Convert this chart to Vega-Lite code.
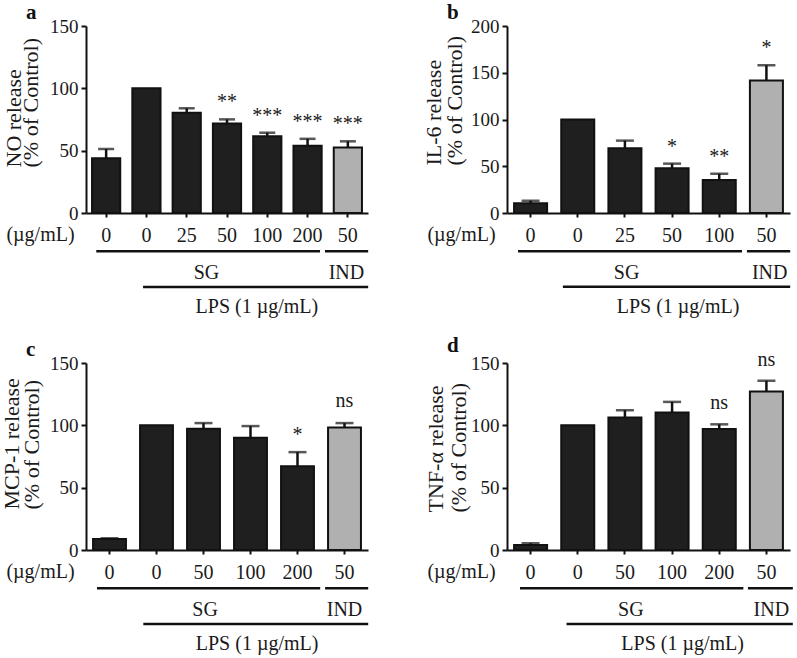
{
  "$schema": "https://vega.github.io/schema/vega-lite/v6.json",
  "background": "white",
  "padding": {"left": 0, "top": 2, "right": 5, "bottom": 5},
  "bounds": "flush",
  "columns": 2,
  "spacing": {"row": 150, "column": 139},
  "datasets": {
    "a": [
      {"key": "ctl", "treat": "control", "value": 44, "upper": 51.3, "sig": ""},
      {"key": "lps0", "treat": "LPS", "value": 100, "upper": null, "sig": ""},
      {"key": "sg25", "treat": "SG", "value": 80.5, "upper": 84, "sig": ""},
      {"key": "sg50", "treat": "SG", "value": 71.7, "upper": 75.1, "sig": "**"},
      {"key": "sg100", "treat": "SG", "value": 61.5, "upper": 64.4, "sig": "***"},
      {"key": "sg200", "treat": "SG", "value": 54, "upper": 59.5, "sig": "***"},
      {"key": "ind50", "treat": "IND", "value": 52.5, "upper": 57.5, "sig": "***"}
    ],
    "b": [
      {"key": "ctl", "treat": "control", "value": 10.3, "upper": 13.2, "sig": ""},
      {"key": "lps0", "treat": "LPS", "value": 100, "upper": null, "sig": ""},
      {"key": "sg25", "treat": "SG", "value": 69.2, "upper": 77.4, "sig": ""},
      {"key": "sg50", "treat": "SG", "value": 47.8, "upper": 52.8, "sig": "*"},
      {"key": "sg100", "treat": "SG", "value": 35.3, "upper": 42, "sig": "**"},
      {"key": "ind50", "treat": "IND", "value": 141.7, "upper": 158, "sig": "*"}
    ],
    "c": [
      {"key": "ctl", "treat": "control", "value": 8.8, "upper": 9.4, "sig": ""},
      {"key": "lps0", "treat": "LPS", "value": 100, "upper": null, "sig": ""},
      {"key": "sg50", "treat": "SG", "value": 97.2, "upper": 101.8, "sig": ""},
      {"key": "sg100", "treat": "SG", "value": 90, "upper": 99.4, "sig": ""},
      {"key": "sg200", "treat": "SG", "value": 67.2, "upper": 78.5, "sig": "*"},
      {"key": "ind50", "treat": "IND", "value": 98.3, "upper": 101.8, "sig": "ns"}
    ],
    "d": [
      {"key": "ctl", "treat": "control", "value": 4, "upper": 5.4, "sig": ""},
      {"key": "lps0", "treat": "LPS", "value": 100, "upper": null, "sig": ""},
      {"key": "sg50", "treat": "SG", "value": 106.2, "upper": 112.1, "sig": ""},
      {"key": "sg100", "treat": "SG", "value": 110.2, "upper": 118.8, "sig": ""},
      {"key": "sg200", "treat": "SG", "value": 97, "upper": 100.8, "sig": "ns"},
      {"key": "ind50", "treat": "IND", "value": 127.2, "upper": 135.8, "sig": "ns"}
    ],
    "spans_a": [
      {"label": "SG", "text": "SG", "from": "ctl", "to": "sg200", "at": "sg25"},
      {"label": "IND", "text": "IND", "from": "ind50", "to": "ind50", "at": "ind50"},
      {"label": "LPS", "text": "LPS (1 µg/mL)", "from": "lps0", "to": "ind50", "at": "sg100"}
    ],
    "spans_b": [
      {"label": "SG", "text": "SG", "from": "ctl", "to": "sg100", "at": "sg25"},
      {"label": "IND", "text": "IND", "from": "ind50", "to": "ind50", "at": "ind50"},
      {"label": "LPS", "text": "LPS (1 µg/mL)", "from": "lps0", "to": "ind50", "at": "sg50"}
    ],
    "spans_c": [
      {"label": "SG", "text": "SG", "from": "ctl", "to": "sg200", "at": "sg50"},
      {"label": "IND", "text": "IND", "from": "ind50", "to": "ind50", "at": "ind50"},
      {"label": "LPS", "text": "LPS (1 µg/mL)", "from": "lps0", "to": "ind50", "at": "sg100"}
    ],
    "spans_d": [
      {"label": "SG", "text": "SG", "from": "ctl", "to": "sg200", "at": "sg50"},
      {"label": "IND", "text": "IND", "from": "ind50", "to": "ind50", "at": "ind50"},
      {"label": "LPS", "text": "LPS (1 µg/mL)", "from": "lps0", "to": "ind50", "at": "sg100"}
    ]
  },
  "concat": [
    {
      "width": 282,
      "height": 187,
      "title": {"text": "a"},
      "layer": [
        {
          "data": {"name": "a"},
          "mark": {"type": "bar", "stroke": "#111", "strokeWidth": 2},
          "encoding": {
            "x": {"field": "key", "type": "nominal", "sort": null,
              "scale": {"domain": ["ctl", "lps0", "sg25", "sg50", "sg100", "sg200", "ind50"], "paddingInner": 0.3, "paddingOuter": 0.15},
              "axis": {"title": "(µg/mL)", "labelExpr": "datum.value == 'ctl' || datum.value == 'lps0' ? '0' : replace(replace(datum.value, 'sg', ''), 'ind', '')", "titleX": -46, "titleY": 21, "titleBaseline": "middle", "titleAlign": "center"}},
            "y": {"field": "value", "type": "quantitative", "scale": {"domain": [0, 150], "nice": false},
              "axis": {"title": ["NO release", "(% of Control)"], "values": [0, 50, 100, 150], "titleX": -66, "titleY": 141, "titleLineHeight": 17}},
            "fill": {"field": "treat", "type": "nominal", "scale": {"domain": ["control", "LPS", "SG", "IND"], "range": ["#1f1f1f", "#1f1f1f", "#1f1f1f", "#b0b0b0"]}, "legend": null}
          }
        },
        {
          "data": {"name": "a"},
          "transform": [{"filter": "datum.upper != null"}],
          "mark": {"type": "rule", "color": "#111", "strokeWidth": 2.5},
          "encoding": {
            "x": {"field": "key", "type": "nominal"},
            "y": {"field": "value", "type": "quantitative", "scale": {"domain": [0, 150], "nice": false}},
            "y2": {"field": "upper"}
          }
        },
        {
          "data": {"name": "a"},
          "transform": [{"filter": "datum.upper != null"}],
          "mark": {"type": "tick", "color": "#111", "size": 16, "thickness": 2.5},
          "encoding": {
            "x": {"field": "key", "type": "nominal"},
            "y": {"field": "upper", "type": "quantitative", "scale": {"domain": [0, 150], "nice": false}}
          }
        },
        {
          "data": {"name": "a"},
          "transform": [{"filter": "datum.sig != '' && datum.sig != 'ns'"}],
          "mark": {"type": "text", "dy": -11, "baseline": "alphabetic", "fontSize": 20},
          "encoding": {
            "x": {"field": "key", "type": "nominal"},
            "y": {"field": "upper", "type": "quantitative", "scale": {"domain": [0, 150], "nice": false}},
            "text": {"field": "sig"}
          }
        },
        {
          "data": {"name": "spans_a"},
          "transform": [{"filter": "datum.label == 'SG'"}],
          "mark": {"type": "rule", "color": "#111", "strokeWidth": 2.5},
          "encoding": {
            "x": {"field": "from", "type": "nominal", "bandPosition": 0.15},
            "x2": {"field": "to", "bandPosition": 0.94},
            "y": {"datum": -30.6, "type": "quantitative", "scale": {"domain": [0, 150], "nice": false}}
          }
        },
        {
          "data": {"name": "spans_a"},
          "transform": [{"filter": "datum.label == 'IND'"}],
          "mark": {"type": "rule", "color": "#111", "strokeWidth": 2.5},
          "encoding": {
            "x": {"field": "from", "type": "nominal", "bandPosition": -0.31},
            "x2": {"field": "to", "bandPosition": 1.22},
            "y": {"datum": -30.6, "type": "quantitative", "scale": {"domain": [0, 150], "nice": false}}
          }
        },
        {
          "data": {"name": "spans_a"},
          "transform": [{"filter": "datum.label == 'LPS'"}],
          "mark": {"type": "rule", "color": "#111", "strokeWidth": 2.5},
          "encoding": {
            "x": {"field": "from", "type": "nominal", "bandPosition": 0.38},
            "x2": {"field": "to", "bandPosition": 1.22},
            "y": {"datum": -59.3, "type": "quantitative", "scale": {"domain": [0, 150], "nice": false}}
          }
        },
        {
          "data": {"name": "spans_a"},
          "transform": [{"filter": "datum.label == 'SG'"}],
          "mark": {"type": "text", "baseline": "middle", "fontSize": 20},
          "encoding": {
            "x": {"field": "at", "type": "nominal", "bandPosition": 1.2},
            "y": {"datum": -48.2, "type": "quantitative", "scale": {"domain": [0, 150], "nice": false}},
            "text": {"field": "text"}
          }
        },
        {
          "data": {"name": "spans_a"},
          "transform": [{"filter": "datum.label == 'IND'"}],
          "mark": {"type": "text", "baseline": "middle", "fontSize": 20},
          "encoding": {
            "x": {"field": "at", "type": "nominal", "bandPosition": 0.45},
            "y": {"datum": -48.2, "type": "quantitative", "scale": {"domain": [0, 150], "nice": false}},
            "text": {"field": "text"}
          }
        },
        {
          "data": {"name": "spans_a"},
          "transform": [{"filter": "datum.label == 'LPS'"}],
          "mark": {"type": "text", "baseline": "middle", "fontSize": 20},
          "encoding": {
            "x": {"field": "at", "type": "nominal", "bandPosition": 0.13},
            "y": {"datum": -75, "type": "quantitative", "scale": {"domain": [0, 150], "nice": false}},
            "text": {"field": "text"}
          }
        }
      ]
    },
    {
      "width": 283,
      "height": 187,
      "title": {"text": "b"},
      "layer": [
        {
          "data": {"name": "b"},
          "mark": {"type": "bar", "stroke": "#111", "strokeWidth": 2},
          "encoding": {
            "x": {"field": "key", "type": "nominal", "sort": null,
              "scale": {"domain": ["ctl", "lps0", "sg25", "sg50", "sg100", "ind50"], "paddingInner": 0.3, "paddingOuter": 0.15},
              "axis": {"title": "(µg/mL)", "labelExpr": "datum.value == 'ctl' || datum.value == 'lps0' ? '0' : replace(replace(datum.value, 'sg', ''), 'ind', '')", "titleX": -46, "titleY": 21, "titleBaseline": "middle", "titleAlign": "center"}},
            "y": {"field": "value", "type": "quantitative", "scale": {"domain": [0, 200], "nice": false},
              "axis": {"title": ["IL-6 release", "(% of Control)"], "values": [0, 50, 100, 150, 200], "titleX": -67, "titleY": 139, "titleLineHeight": 21}},
            "fill": {"field": "treat", "type": "nominal", "scale": {"domain": ["control", "LPS", "SG", "IND"], "range": ["#1f1f1f", "#1f1f1f", "#1f1f1f", "#b0b0b0"]}, "legend": null}
          }
        },
        {
          "data": {"name": "b"},
          "transform": [{"filter": "datum.upper != null"}],
          "mark": {"type": "rule", "color": "#111", "strokeWidth": 2.5},
          "encoding": {
            "x": {"field": "key", "type": "nominal"},
            "y": {"field": "value", "type": "quantitative", "scale": {"domain": [0, 200], "nice": false}},
            "y2": {"field": "upper"}
          }
        },
        {
          "data": {"name": "b"},
          "transform": [{"filter": "datum.upper != null"}],
          "mark": {"type": "tick", "color": "#111", "size": 18, "thickness": 2.5},
          "encoding": {
            "x": {"field": "key", "type": "nominal"},
            "y": {"field": "upper", "type": "quantitative", "scale": {"domain": [0, 200], "nice": false}}
          }
        },
        {
          "data": {"name": "b"},
          "transform": [{"filter": "datum.sig != '' && datum.sig != 'ns'"}],
          "mark": {"type": "text", "dy": -11, "baseline": "alphabetic", "fontSize": 20},
          "encoding": {
            "x": {"field": "key", "type": "nominal"},
            "y": {"field": "upper", "type": "quantitative", "scale": {"domain": [0, 200], "nice": false}},
            "text": {"field": "sig"}
          }
        },
        {
          "data": {"name": "spans_b"},
          "transform": [{"filter": "datum.label == 'SG'"}],
          "mark": {"type": "rule", "color": "#111", "strokeWidth": 2.5},
          "encoding": {
            "x": {"field": "from", "type": "nominal", "bandPosition": 0.12},
            "x2": {"field": "to", "bandPosition": 1.19},
            "y": {"datum": -40.8, "type": "quantitative", "scale": {"domain": [0, 200], "nice": false}}
          }
        },
        {
          "data": {"name": "spans_b"},
          "transform": [{"filter": "datum.label == 'IND'"}],
          "mark": {"type": "rule", "color": "#111", "strokeWidth": 2.5},
          "encoding": {
            "x": {"field": "from", "type": "nominal", "bandPosition": -0.09},
            "x2": {"field": "to", "bandPosition": 1.22},
            "y": {"datum": -40.8, "type": "quantitative", "scale": {"domain": [0, 200], "nice": false}}
          }
        },
        {
          "data": {"name": "spans_b"},
          "transform": [{"filter": "datum.label == 'LPS'"}],
          "mark": {"type": "rule", "color": "#111", "strokeWidth": 2.5},
          "encoding": {
            "x": {"field": "from", "type": "nominal", "bandPosition": 0.05},
            "x2": {"field": "to", "bandPosition": 1.22},
            "y": {"datum": -79, "type": "quantitative", "scale": {"domain": [0, 200], "nice": false}}
          }
        },
        {
          "data": {"name": "spans_b"},
          "transform": [{"filter": "datum.label == 'SG'"}],
          "mark": {"type": "text", "baseline": "middle", "fontSize": 20},
          "encoding": {
            "x": {"field": "at", "type": "nominal", "bandPosition": 0.55},
            "y": {"datum": -64.3, "type": "quantitative", "scale": {"domain": [0, 200], "nice": false}},
            "text": {"field": "text"}
          }
        },
        {
          "data": {"name": "spans_b"},
          "transform": [{"filter": "datum.label == 'IND'"}],
          "mark": {"type": "text", "baseline": "middle", "fontSize": 20},
          "encoding": {
            "x": {"field": "at", "type": "nominal", "bandPosition": 0.6},
            "y": {"datum": -64.3, "type": "quantitative", "scale": {"domain": [0, 200], "nice": false}},
            "text": {"field": "text"}
          }
        },
        {
          "data": {"name": "spans_b"},
          "transform": [{"filter": "datum.label == 'LPS'"}],
          "mark": {"type": "text", "baseline": "middle", "fontSize": 20},
          "encoding": {
            "x": {"field": "at", "type": "nominal", "bandPosition": 0.68},
            "y": {"datum": -100, "type": "quantitative", "scale": {"domain": [0, 200], "nice": false}},
            "text": {"field": "text"}
          }
        }
      ]
    },
    {
      "width": 282,
      "height": 187,
      "title": {"text": "c"},
      "layer": [
        {
          "data": {"name": "c"},
          "mark": {"type": "bar", "stroke": "#111", "strokeWidth": 2},
          "encoding": {
            "x": {"field": "key", "type": "nominal", "sort": null,
              "scale": {"domain": ["ctl", "lps0", "sg50", "sg100", "sg200", "ind50"], "paddingInner": 0.3, "paddingOuter": 0.15},
              "axis": {"title": "(µg/mL)", "labelExpr": "datum.value == 'ctl' || datum.value == 'lps0' ? '0' : replace(replace(datum.value, 'sg', ''), 'ind', '')", "titleX": -46, "titleY": 21, "titleBaseline": "middle", "titleAlign": "center"}},
            "y": {"field": "value", "type": "quantitative", "scale": {"domain": [0, 150], "nice": false},
              "axis": {"title": ["MCP-1 release", "(% of Control)"], "values": [0, 50, 100, 150], "titleX": -68, "titleY": 146, "titleLineHeight": 20}},
            "fill": {"field": "treat", "type": "nominal", "scale": {"domain": ["control", "LPS", "SG", "IND"], "range": ["#1f1f1f", "#1f1f1f", "#1f1f1f", "#b0b0b0"]}, "legend": null}
          }
        },
        {
          "data": {"name": "c"},
          "transform": [{"filter": "datum.upper != null"}],
          "mark": {"type": "rule", "color": "#111", "strokeWidth": 2.5},
          "encoding": {
            "x": {"field": "key", "type": "nominal"},
            "y": {"field": "value", "type": "quantitative", "scale": {"domain": [0, 150], "nice": false}},
            "y2": {"field": "upper"}
          }
        },
        {
          "data": {"name": "c"},
          "transform": [{"filter": "datum.upper != null"}],
          "mark": {"type": "tick", "color": "#111", "size": 18, "thickness": 2.5},
          "encoding": {
            "x": {"field": "key", "type": "nominal"},
            "y": {"field": "upper", "type": "quantitative", "scale": {"domain": [0, 150], "nice": false}}
          }
        },
        {
          "data": {"name": "c"},
          "transform": [{"filter": "datum.sig != '' && datum.sig != 'ns'"}],
          "mark": {"type": "text", "dy": -11, "baseline": "alphabetic", "fontSize": 20},
          "encoding": {
            "x": {"field": "key", "type": "nominal"},
            "y": {"field": "upper", "type": "quantitative", "scale": {"domain": [0, 150], "nice": false}},
            "text": {"field": "sig"}
          }
        },
        {
          "data": {"name": "c"},
          "transform": [{"filter": "datum.sig == 'ns'"}],
          "mark": {"type": "text", "dy": -16, "baseline": "alphabetic", "fontSize": 20},
          "encoding": {
            "x": {"field": "key", "type": "nominal"},
            "y": {"field": "upper", "type": "quantitative", "scale": {"domain": [0, 150], "nice": false}},
            "text": {"field": "sig"}
          }
        },
        {
          "data": {"name": "spans_c"},
          "transform": [{"filter": "datum.label == 'SG'"}],
          "mark": {"type": "rule", "color": "#111", "strokeWidth": 2.5},
          "encoding": {
            "x": {"field": "from", "type": "nominal", "bandPosition": 0.12},
            "x2": {"field": "to", "bandPosition": 1.19},
            "y": {"datum": -30.6, "type": "quantitative", "scale": {"domain": [0, 150], "nice": false}}
          }
        },
        {
          "data": {"name": "spans_c"},
          "transform": [{"filter": "datum.label == 'IND'"}],
          "mark": {"type": "rule", "color": "#111", "strokeWidth": 2.5},
          "encoding": {
            "x": {"field": "from", "type": "nominal", "bandPosition": -0.09},
            "x2": {"field": "to", "bandPosition": 1.22},
            "y": {"datum": -30.6, "type": "quantitative", "scale": {"domain": [0, 150], "nice": false}}
          }
        },
        {
          "data": {"name": "spans_c"},
          "transform": [{"filter": "datum.label == 'LPS'"}],
          "mark": {"type": "rule", "color": "#111", "strokeWidth": 2.5},
          "encoding": {
            "x": {"field": "from", "type": "nominal", "bandPosition": 0.1},
            "x2": {"field": "to", "bandPosition": 1.22},
            "y": {"datum": -59.3, "type": "quantitative", "scale": {"domain": [0, 150], "nice": false}}
          }
        },
        {
          "data": {"name": "spans_c"},
          "transform": [{"filter": "datum.label == 'SG'"}],
          "mark": {"type": "text", "baseline": "middle", "fontSize": 20},
          "encoding": {
            "x": {"field": "at", "type": "nominal", "bandPosition": 0.55},
            "y": {"datum": -48.2, "type": "quantitative", "scale": {"domain": [0, 150], "nice": false}},
            "text": {"field": "text"}
          }
        },
        {
          "data": {"name": "spans_c"},
          "transform": [{"filter": "datum.label == 'IND'"}],
          "mark": {"type": "text", "baseline": "middle", "fontSize": 20},
          "encoding": {
            "x": {"field": "at", "type": "nominal", "bandPosition": 0.5},
            "y": {"datum": -48.2, "type": "quantitative", "scale": {"domain": [0, 150], "nice": false}},
            "text": {"field": "text"}
          }
        },
        {
          "data": {"name": "spans_c"},
          "transform": [{"filter": "datum.label == 'LPS'"}],
          "mark": {"type": "text", "baseline": "middle", "fontSize": 20},
          "encoding": {
            "x": {"field": "at", "type": "nominal", "bandPosition": 0.7},
            "y": {"datum": -75, "type": "quantitative", "scale": {"domain": [0, 150], "nice": false}},
            "text": {"field": "text"}
          }
        }
      ]
    },
    {
      "width": 283,
      "height": 187,
      "title": {"text": "d"},
      "layer": [
        {
          "data": {"name": "d"},
          "mark": {"type": "bar", "stroke": "#111", "strokeWidth": 2},
          "encoding": {
            "x": {"field": "key", "type": "nominal", "sort": null,
              "scale": {"domain": ["ctl", "lps0", "sg50", "sg100", "sg200", "ind50"], "paddingInner": 0.3, "paddingOuter": 0.15},
              "axis": {"title": "(µg/mL)", "labelExpr": "datum.value == 'ctl' || datum.value == 'lps0' ? '0' : replace(replace(datum.value, 'sg', ''), 'ind', '')", "titleX": -46, "titleY": 21, "titleBaseline": "middle", "titleAlign": "center"}},
            "y": {"field": "value", "type": "quantitative", "scale": {"domain": [0, 150], "nice": false},
              "axis": {"title": ["TNF-α release", "(% of Control)"], "values": [0, 50, 100, 150], "titleX": -65, "titleY": 149, "titleLineHeight": 23}},
            "fill": {"field": "treat", "type": "nominal", "scale": {"domain": ["control", "LPS", "SG", "IND"], "range": ["#1f1f1f", "#1f1f1f", "#1f1f1f", "#b0b0b0"]}, "legend": null}
          }
        },
        {
          "data": {"name": "d"},
          "transform": [{"filter": "datum.upper != null"}],
          "mark": {"type": "rule", "color": "#111", "strokeWidth": 2.5},
          "encoding": {
            "x": {"field": "key", "type": "nominal"},
            "y": {"field": "value", "type": "quantitative", "scale": {"domain": [0, 150], "nice": false}},
            "y2": {"field": "upper"}
          }
        },
        {
          "data": {"name": "d"},
          "transform": [{"filter": "datum.upper != null"}],
          "mark": {"type": "tick", "color": "#111", "size": 18, "thickness": 2.5},
          "encoding": {
            "x": {"field": "key", "type": "nominal"},
            "y": {"field": "upper", "type": "quantitative", "scale": {"domain": [0, 150], "nice": false}}
          }
        },
        {
          "data": {"name": "d"},
          "transform": [{"filter": "datum.sig == 'ns'"}],
          "mark": {"type": "text", "dy": -15, "baseline": "alphabetic", "fontSize": 20},
          "encoding": {
            "x": {"field": "key", "type": "nominal"},
            "y": {"field": "upper", "type": "quantitative", "scale": {"domain": [0, 150], "nice": false}},
            "text": {"field": "sig"}
          }
        },
        {
          "data": {"name": "spans_d"},
          "transform": [{"filter": "datum.label == 'SG'"}],
          "mark": {"type": "rule", "color": "#111", "strokeWidth": 2.5},
          "encoding": {
            "x": {"field": "from", "type": "nominal", "bandPosition": 0.18},
            "x2": {"field": "to", "bandPosition": 1.23},
            "y": {"datum": -30.6, "type": "quantitative", "scale": {"domain": [0, 150], "nice": false}}
          }
        },
        {
          "data": {"name": "spans_d"},
          "transform": [{"filter": "datum.label == 'IND'"}],
          "mark": {"type": "rule", "color": "#111", "strokeWidth": 2.5},
          "encoding": {
            "x": {"field": "from", "type": "nominal", "bandPosition": -0.06},
            "x2": {"field": "to", "bandPosition": 1.3},
            "y": {"datum": -30.6, "type": "quantitative", "scale": {"domain": [0, 150], "nice": false}}
          }
        },
        {
          "data": {"name": "spans_d"},
          "transform": [{"filter": "datum.label == 'LPS'"}],
          "mark": {"type": "rule", "color": "#111", "strokeWidth": 2.5},
          "encoding": {
            "x": {"field": "from", "type": "nominal", "bandPosition": 0.16},
            "x2": {"field": "to", "bandPosition": 1.3},
            "y": {"datum": -59.3, "type": "quantitative", "scale": {"domain": [0, 150], "nice": false}}
          }
        },
        {
          "data": {"name": "spans_d"},
          "transform": [{"filter": "datum.label == 'SG'"}],
          "mark": {"type": "text", "baseline": "middle", "fontSize": 20},
          "encoding": {
            "x": {"field": "at", "type": "nominal", "bandPosition": 0.68},
            "y": {"datum": -48.2, "type": "quantitative", "scale": {"domain": [0, 150], "nice": false}},
            "text": {"field": "text"}
          }
        },
        {
          "data": {"name": "spans_d"},
          "transform": [{"filter": "datum.label == 'IND'"}],
          "mark": {"type": "text", "baseline": "middle", "fontSize": 20},
          "encoding": {
            "x": {"field": "at", "type": "nominal", "bandPosition": 0.65},
            "y": {"datum": -48.2, "type": "quantitative", "scale": {"domain": [0, 150], "nice": false}},
            "text": {"field": "text"}
          }
        },
        {
          "data": {"name": "spans_d"},
          "transform": [{"filter": "datum.label == 'LPS'"}],
          "mark": {"type": "text", "baseline": "middle", "fontSize": 20},
          "encoding": {
            "x": {"field": "at", "type": "nominal", "bandPosition": 0.82},
            "y": {"datum": -75, "type": "quantitative", "scale": {"domain": [0, 150], "nice": false}},
            "text": {"field": "text"}
          }
        }
      ]
    }
  ],
  "config": {
    "font": "Liberation Serif",
    "view": {"stroke": null},
    "axis": {
      "domainColor": "#111", "domainWidth": 2, "tickColor": "#111", "tickWidth": 2,
      "labelFont": "Liberation Serif", "labelColor": "#1a1a1a",
      "titleFont": "Liberation Serif", "titleColor": "#1a1a1a", "titleFontWeight": "normal", "titleFontSize": 20,
      "grid": false
    },
    "axisX": {"labelFontSize": 20, "tickSize": 4, "labelPadding": 8, "labelAngle": 0},
    "axisY": {"labelFontSize": 19, "tickSize": 5, "labelPadding": 3, "titleAngle": -90, "titleAlign": "left", "titleBaseline": "alphabetic", "titleFontSize": 22},
    "title": {"anchor": "start", "frame": "group", "fontSize": 21, "fontWeight": "bold", "color": "#111", "font": "Liberation Serif", "dx": -60, "offset": -6},
    "text": {"font": "Liberation Serif", "fontSize": 20, "color": "#1a1a1a"}
  }
}
